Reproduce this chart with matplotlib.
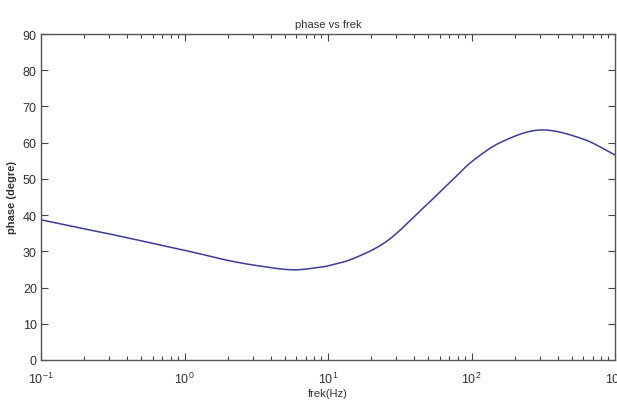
import matplotlib
matplotlib.use("Agg")
import matplotlib.pyplot as plt
import numpy as np
from matplotlib.ticker import LogLocator, NullFormatter

plt.rcParams['font.family'] = ['Liberation Sans Narrow', 'Liberation Sans', 'DejaVu Sans']

freq = [0.1, 0.2, 0.3, 0.5, 1.0, 2.0, 3.4, 5.7, 8.8, 10, 15, 25.7, 44, 75, 100, 158, 300, 600, 1000]
phase = [38.7, 36.2, 34.8, 32.9, 30.3, 27.5, 25.9, 24.9, 25.6, 26.0, 28.0, 32.8, 41.2, 50.0, 54.7, 60.0, 63.5, 61.0, 56.6]
yticks = [0, 10, 20, 30, 40, 50, 60, 70, 80, 90]
xticks = [0.1, 1, 10, 100, 1000]
xticklabels = [r'$\mathregular{10^{-1}}$', r'$\mathregular{10^{0}}$', r'$\mathregular{10^{1}}$',
               r'$\mathregular{10^{2}}$', r'$\mathregular{10^{3}}$']

lx = np.log10(freq)
xs = np.linspace(lx[0], lx[-1], 400)


def hermite(xp, yp, xq):
    xp = np.asarray(xp)
    yp = np.asarray(yp)
    n = len(xp)
    m = np.zeros(n)
    for i in range(n):
        if i == 0:
            m[i] = (yp[1] - yp[0]) / (xp[1] - xp[0])
        elif i == n - 1:
            m[i] = (yp[-1] - yp[-2]) / (xp[-1] - xp[-2])
        else:
            m[i] = (yp[i + 1] - yp[i - 1]) / (xp[i + 1] - xp[i - 1])
    out = []
    for x in xq:
        k = min(max(np.searchsorted(xp, x) - 1, 0), n - 2)
        h = xp[k + 1] - xp[k]
        t = (x - xp[k]) / h
        h00 = 2 * t**3 - 3 * t**2 + 1
        h10 = t**3 - 2 * t**2 + t
        h01 = -2 * t**3 + 3 * t**2
        h11 = t**3 - t**2
        out.append(h00 * yp[k] + h10 * h * m[k] + h01 * yp[k + 1] + h11 * h * m[k + 1])
    return np.array(out)


ys = hermite(lx, phase, xs)

fig = plt.figure(figsize=(6.17, 4.10), dpi=100)
ax = fig.add_axes([41 / 617, 49 / 410, 574 / 617, 326 / 410])
ax.semilogx(10 ** xs, ys, color='#3b3b9b', lw=1.1)

ax.set_xlim(0.1, 1000)
ax.set_ylim(0, 90)
ax.set_yticks(yticks)
ax.set_xticks(xticks)
ax.set_xticklabels(xticklabels)
ax.xaxis.set_minor_locator(LogLocator(base=10, subs=np.arange(2, 10)))
ax.xaxis.set_minor_formatter(NullFormatter())

ax.tick_params(which='both', direction='in', top=True, right=True, colors='#444444',
               labelcolor='#333333', labelsize=9)
ax.tick_params(which='major', length=5, width=0.8)
ax.tick_params(which='minor', length=3, width=0.8)
ax.tick_params(axis='x', pad=8)
ax.tick_params(axis='y', pad=3)
for s in ax.spines.values():
    s.set_color('#555555')
    s.set_linewidth(1.0)

ax.set_title('phase vs frek', fontsize=8, color='#333333', pad=5)
ax.set_xlabel('frek(Hz)', fontsize=8, color='#333333', labelpad=1)
ax.set_ylabel('phase (degre)', fontsize=8, color='#333333', fontweight='bold', labelpad=4)

fig.savefig('out.png', dpi=100)
